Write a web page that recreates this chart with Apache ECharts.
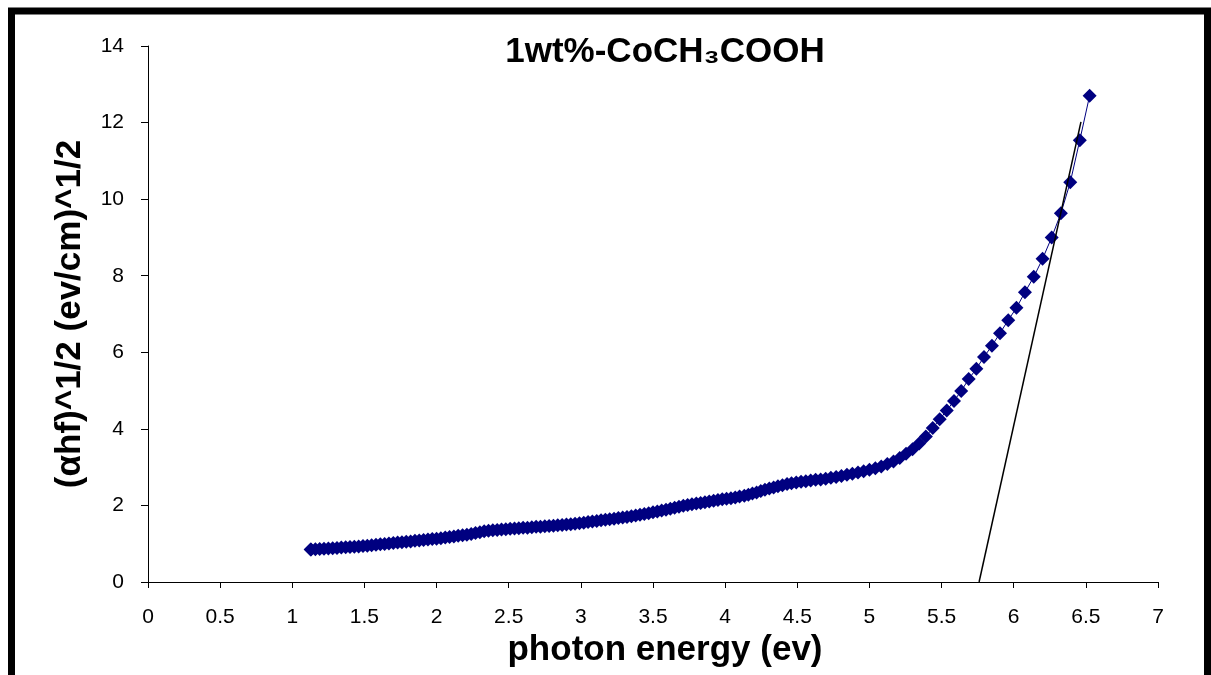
<!DOCTYPE html>
<html>
<head>
<meta charset="utf-8">
<script src="https://cdn.jsdelivr.net/npm/echarts@6/dist/echarts.min.js"></script>
<style>
html,body{margin:0;padding:0;background:#fff;}
#chart{width:1211px;height:675px;}
</style>
</head>
<body>
<div id="chart"></div>
<script>
// photon energy (eV)
const energy = [
  1.127,1.13,1.16,1.19,1.22,1.25,1.28,1.31,1.34,1.37,1.40,1.43,1.46,1.49,1.52,1.55,1.58,1.61,1.64,1.67,
  1.70,1.73,1.76,1.79,1.82,1.85,1.88,1.91,1.94,1.97,2.00,2.03,2.06,2.09,2.12,2.15,2.18,2.21,2.24,2.27,
  2.30,2.33,2.36,2.39,2.42,2.45,2.48,2.51,2.54,2.57,2.60,2.63,2.66,2.69,2.72,2.75,2.78,2.81,2.84,2.87,
  2.90,2.93,2.96,2.99,3.02,3.05,3.08,3.11,3.14,3.17,3.20,3.23,3.26,3.29,3.32,3.35,3.38,3.41,3.44,3.47,
  3.50,3.53,3.56,3.59,3.62,3.65,3.68,3.71,3.74,3.77,3.80,3.83,3.86,3.89,3.92,3.95,3.98,4.01,4.04,4.07,
  4.10,
  4.133,4.161,4.189,4.218,4.247,4.276,4.306,4.336,4.366,4.397,4.429,4.460,4.493,4.526,4.559,4.593,
  4.627,4.662,4.697,4.733,4.769,4.806,4.844,4.882,4.921,4.960,5.000,5.041,5.082,5.124,5.167,5.210,
  5.254,5.299,5.345,5.391,5.439,5.487,5.536,5.586,5.636,5.688,5.741,5.794,5.849,5.905,5.962,6.019,
  6.078,6.139,6.200,6.263,6.327,6.392,6.458,6.526
];
// (αhf)^1/2 values
const value = [
  0.85,0.85,0.855,0.86,0.87,0.875,0.88,0.89,0.90,0.905,0.915,0.92,0.93,0.94,0.95,0.96,0.97,0.985,0.995,1.005,
  1.02,1.03,1.04,1.05,1.06,1.075,1.085,1.095,1.11,1.12,1.13,1.145,1.16,1.175,1.19,1.205,1.22,1.235,1.255,1.28,
  1.30,1.325,1.34,1.35,1.36,1.37,1.38,1.39,1.40,1.405,1.415,1.42,1.43,1.44,1.445,1.455,1.46,1.47,1.48,1.49,
  1.50,1.51,1.52,1.535,1.55,1.565,1.58,1.595,1.61,1.625,1.64,1.655,1.67,1.685,1.70,1.72,1.74,1.755,1.775,1.795,
  1.82,1.84,1.865,1.89,1.91,1.94,1.965,1.99,2.01,2.03,2.05,2.065,2.08,2.10,2.12,2.14,2.16,2.175,2.19,2.21,
  2.23,
  2.25,2.28,2.31,2.34,2.38,2.41,2.44,2.47,2.50,2.53,2.56,2.58,2.60,2.62,2.63,2.65,
  2.67,2.68,2.70,2.72,2.74,2.77,2.80,2.83,2.86,2.89,2.93,2.97,3.02,3.08,3.15,3.24,
  3.35,3.47,3.62,3.80,4.02,4.25,4.48,4.73,4.99,5.30,5.57,5.88,6.17,6.50,6.84,7.16,
  7.57,7.97,8.44,9.00,9.63,10.44,11.54,12.70
];
// extrapolated tangent line end points
const fitX = [5.76, 6.466];
const fitY = [0, 12.02];
// axis ticks
const xTicks = {min: 0, max: 7, interval: 0.5};
const yTicks = {min: 0, max: 14, interval: 2};

const chart = echarts.init(document.getElementById('chart'), null, {renderer: 'canvas'});
const font = '"Liberation Sans", Arial, sans-serif';
chart.setOption({
  animation: false,
  backgroundColor: '#fff',
  title: {
    text: '1wt%-CoCH₃COOH',
    left: 660,
    top: 30,
    textAlign: 'center',
    textStyle: {fontFamily: font, fontWeight: 'bold', fontSize: 35, color: '#000'}
  },
  grid: {left: 148, right: 53, top: 46, bottom: 93, containLabel: false},
  xAxis: {
    type: 'value', min: xTicks.min, max: xTicks.max, interval: xTicks.interval,
    name: 'photon energy (ev)', nameLocation: 'middle', nameGap: 50,
    nameTextStyle: {fontFamily: font, fontWeight: 'bold', fontSize: 35, color: '#000', padding: [0, 0, 0, 24]},
    axisLine: {show: true, onZero: false, lineStyle: {color: '#000', width: 1}},
    axisTick: {show: true, length: 6, inside: false, lineStyle: {color: '#000'}},
    axisLabel: {fontFamily: font, fontSize: 21, color: '#000', margin: 25},
    splitLine: {show: false}
  },
  yAxis: {
    type: 'value', min: yTicks.min, max: yTicks.max, interval: yTicks.interval,
    name: '(αhf)^1/2 (ev/cm)^1/2', nameLocation: 'middle', nameGap: 60,
    nameTextStyle: {fontFamily: font, fontWeight: 'bold', fontSize: 35, color: '#000'},
    axisLine: {show: true, lineStyle: {color: '#000', width: 1}},
    axisTick: {show: true, length: 7, inside: false, lineStyle: {color: '#000'}},
    axisLabel: {fontFamily: font, fontSize: 21, color: '#000', margin: 24},
    splitLine: {show: false}
  },
  graphic: [{
    type: 'rect', silent: true, z: 100,
    shape: {x: 11.5, y: 11, width: 1196, height: 720},
    style: {fill: 'none', stroke: '#000', lineWidth: 7}
  }],
  series: [
    {
      type: 'line',
      data: energy.map((e, i) => [e, value[i]]),
      symbol: 'diamond', symbolSize: 14, showAllSymbol: true,
      lineStyle: {color: '#000080', width: 1},
      itemStyle: {color: '#000080'},
      z: 2
    },
    {
      type: 'line',
      data: fitX.map((e, i) => [e, fitY[i]]),
      symbol: 'none',
      lineStyle: {color: '#000', width: 1.5},
      z: 3
    }
  ]
});
</script>
</body>
</html>
